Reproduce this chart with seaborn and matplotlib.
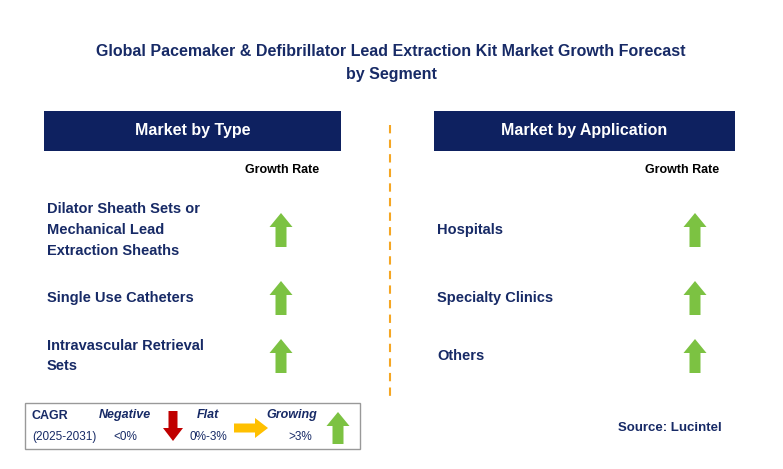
import matplotlib
matplotlib.use("Agg")
import matplotlib.pyplot as plt
import seaborn as sns
from matplotlib.patches import Rectangle, FancyArrow

sns.set_theme(style="white", font="Liberation Sans")

NAVY = "#0e2160"
GREEN = "#7cc242"
TEXT = "#172a66"

title_lines = ["Global Pacemaker & Defibrillator Lead Extraction Kit Market Growth Forecast", "by Segment"]
type_labels = ["Dilator Sheath Sets or\nMechanical Lead\nExtraction Sheaths", "Single Use Catheters",
               "Intravascular Retrieval\nSets"]
type_trend = ["up", "up", "up"]
app_labels = ["Hospitals", "Specialty Clinics", "Others"]
app_trend = ["up", "up", "up"]
row_y = [230, 298, 356]

fig = plt.figure(figsize=(7.83, 4.69), dpi=100)
ax = fig.add_axes([0, 0, 1, 1])
ax.set_xlim(0, 783)
ax.set_ylim(469, 0)
ax.axis("off")

ax.text(391, 52, title_lines[0], ha="center", va="center", fontsize=11.5, fontweight="bold", color=TEXT)
ax.text(391, 74, title_lines[1], ha="center", va="center", fontsize=11.5, fontweight="bold", color=TEXT)


def up_arrow(x, yc, h=34, color=GREEN):
    ax.add_patch(FancyArrow(x, yc + h / 2, 0, -h, width=11, head_width=23, head_length=14,
                            length_includes_head=True, color=color, lw=0))


for x0, x1, head in [(44, 341, "Market by Type"), (434, 735, "Market by Application")]:
    ax.add_patch(Rectangle((x0, 111), x1 - x0, 40, color=NAVY, lw=0))
    ax.text((x0 + x1) / 2, 131, head, ha="center", va="center", fontsize=11.5, fontweight="bold", color="white")

ax.plot([390, 390], [125, 400], ls=(0, (4, 3)), color="#f5a623", lw=1.5)

ax.text(282, 170, "Growth Rate", ha="center", va="center", fontsize=9, fontweight="bold", color="black")
ax.text(682, 170, "Growth Rate", ha="center", va="center", fontsize=9, fontweight="bold", color="black")

for lab, tr, y in zip(type_labels, type_trend, row_y):
    ax.text(47, y, lab, ha="left", va="center", fontsize=10.5, fontweight="bold", color=TEXT, linespacing=1.6)
    up_arrow(281, y)
for lab, tr, y in zip(app_labels, app_trend, row_y):
    ax.text(437, y, lab, ha="left", va="center", fontsize=10.5, fontweight="bold", color=TEXT)
    up_arrow(695, y)

# legend box
ax.add_patch(Rectangle((25, 403), 335, 46, fill=False, edgecolor="#999999", lw=1))
ax.text(32, 416, "CAGR", ha="left", va="center", fontsize=9, fontweight="bold", color=TEXT)
ax.text(32, 437, "(2025-2031)", ha="left", va="center", fontsize=8.5, color=TEXT)
ax.text(125, 415, "Negative", ha="center", va="center", fontsize=9, fontweight="bold", style="italic", color=TEXT)
ax.text(125, 437, "<0%", ha="center", va="center", fontsize=8.5, color=TEXT)
ax.add_patch(FancyArrow(173, 411, 0, 30, width=9, head_width=20, head_length=13,
                        length_includes_head=True, color="#c00000", lw=0))
ax.text(208, 415, "Flat", ha="center", va="center", fontsize=9, fontweight="bold", style="italic", color=TEXT)
ax.text(208, 437, "0%-3%", ha="center", va="center", fontsize=8.5, color=TEXT)
ax.add_patch(FancyArrow(234, 428, 34, 0, width=9, head_width=20, head_length=13,
                        length_includes_head=True, color="#ffc000", lw=0))
ax.text(292, 415, "Growing", ha="center", va="center", fontsize=9, fontweight="bold", style="italic", color=TEXT)
ax.text(300, 437, ">3%", ha="center", va="center", fontsize=8.5, color=TEXT)
up_arrow(338, 428, h=32)

ax.text(670, 428, "Source: Lucintel", ha="center", va="center", fontsize=9.5, fontweight="bold", color=TEXT)

fig.savefig("out.png", dpi=100)
